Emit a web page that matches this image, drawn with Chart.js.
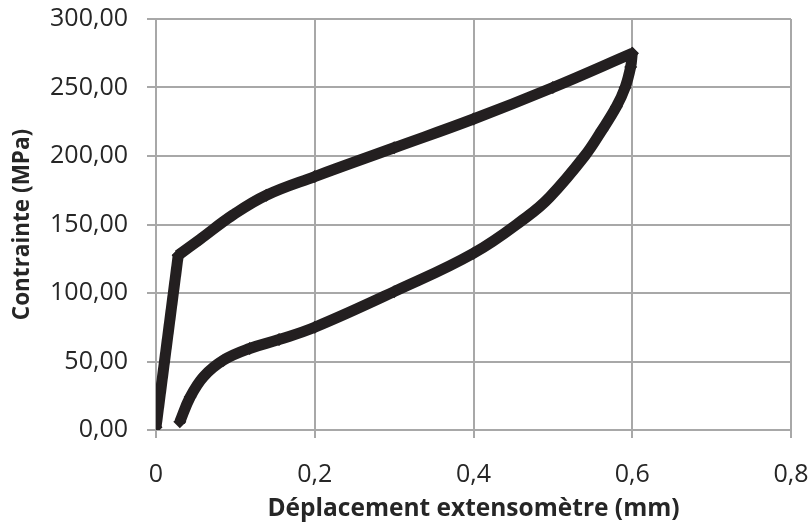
<!DOCTYPE html>
<html>
<head>
<meta charset="utf-8">
<script src="https://cdn.jsdelivr.net/npm/chart.js@4.4.1/dist/chart.umd.min.js"></script>
<style>
  html, body { margin: 0; padding: 0; background: #ffffff; }
  #wrap { width: 811px; height: 528px; position: relative; }
</style>
</head>
<body>
<div id="wrap"><canvas id="loop-graph"></canvas></div>
<script>
// elastic loading (mm, MPa)
const loadX = [0, 0.028]
const loadY = [2, 127.6]
// plastic loading up to the peak
const upperX = [0.028, 0.055, 0.097, 0.139, 0.2, 0.3, 0.4, 0.5, 0.6]
const upperY = [127.6, 139, 157, 171.4, 185, 206, 227, 250, 275]
// unloading back down
const lowerX = [0.6, 0.598, 0.591, 0.58, 0.562, 0.54, 0.496, 0.467, 0.4, 0.3, 0.2, 0.155, 0.118, 0.085, 0.06, 0.043, 0.03]
const lowerY = [275, 265, 250, 236, 219, 200, 170, 155.5, 129, 101, 75, 66, 59.5, 51, 39, 24, 6]

const xTicks = [0, 0.2, 0.4, 0.6, 0.8]
const yTicks = [0, 50, 100, 150, 200, 250, 300]
const xTitle = 'Déplacement extensomètre (mm)'
const yTitle = 'Contrainte (MPa)'

const lineColor = '#231f20'
const gridColor = '#a8a8a8'
const textColor = '#262626'
const fontFamily = "'Open Sans', 'DejaVu Sans', sans-serif"

const toPoints = (xs, ys) => xs.map((x, i) => ({ x: x, y: ys[i] }))

const makeSet = (xs, ys, tension) => ({
  data: toPoints(xs, ys),
  showLine: true,
  borderColor: lineColor,
  backgroundColor: lineColor,
  borderWidth: 11,
  borderJoinStyle: 'round',
  tension: tension,
  pointStyle: 'rectRot',
  pointRadius: 6.5,
  pointBorderWidth: 0,
  pointBackgroundColor: lineColor
})

const ctx = document.getElementById('loop-graph').getContext('2d')
new Chart(ctx, {
  type: 'scatter',
  data: {
    datasets: [
      makeSet(loadX, loadY, 0),
      makeSet(upperX, upperY, 0.4),
      makeSet(lowerX, lowerY, 0.4)
    ]
  },
  options: {
    responsive: true,
    maintainAspectRatio: false,
    animation: false,
    events: [],
    layout: {
      padding: { top: 19, right: 20, bottom: 0, left: 0 }
    },
    plugins: {
      legend: { display: false },
      tooltip: { enabled: false }
    },
    scales: {
      x: {
        type: 'linear',
        min: 0,
        max: 0.8,
        afterBuildTicks: scale => {
          scale.ticks = xTicks.map(v => ({ value: v }))
        },
        afterFit: scale => {
          scale.height = 98
          scale.paddingLeft = 0
          scale.paddingRight = 0
        },
        border: { color: gridColor, width: 2 },
        grid: {
          color: gridColor,
          lineWidth: 2,
          tickLength: 8,
          drawTicks: true
        },
        ticks: {
          color: textColor,
          padding: 22,
          maxRotation: 0,
          font: { family: fontFamily, size: 25 },
          callback: value => value === 0 ? '0' : value.toFixed(1).replace('.', ',')
        },
        title: {
          display: true,
          text: xTitle,
          color: textColor,
          padding: { top: 0, bottom: 4 },
          font: { family: fontFamily, size: 24.5, weight: 'bold' }
        }
      },
      y: {
        type: 'linear',
        min: 0,
        max: 300,
        afterBuildTicks: scale => {
          scale.ticks = yTicks.map(v => ({ value: v }))
        },
        afterFit: scale => {
          scale.width = 156
          scale.paddingTop = 0
          scale.paddingBottom = 0
        },
        border: { color: gridColor, width: 2 },
        grid: {
          color: gridColor,
          lineWidth: 2,
          tickLength: 9,
          drawTicks: true
        },
        ticks: {
          color: textColor,
          padding: 19,
          font: { family: fontFamily, size: 25 },
          callback: value => value.toFixed(2).replace('.', ',')
        },
        title: {
          display: true,
          text: yTitle,
          color: textColor,
          padding: { top: 9, bottom: 0 },
          font: { family: fontFamily, size: 22.5, weight: 'bold' }
        }
      }
    }
  }
})
</script>
</body>
</html>
